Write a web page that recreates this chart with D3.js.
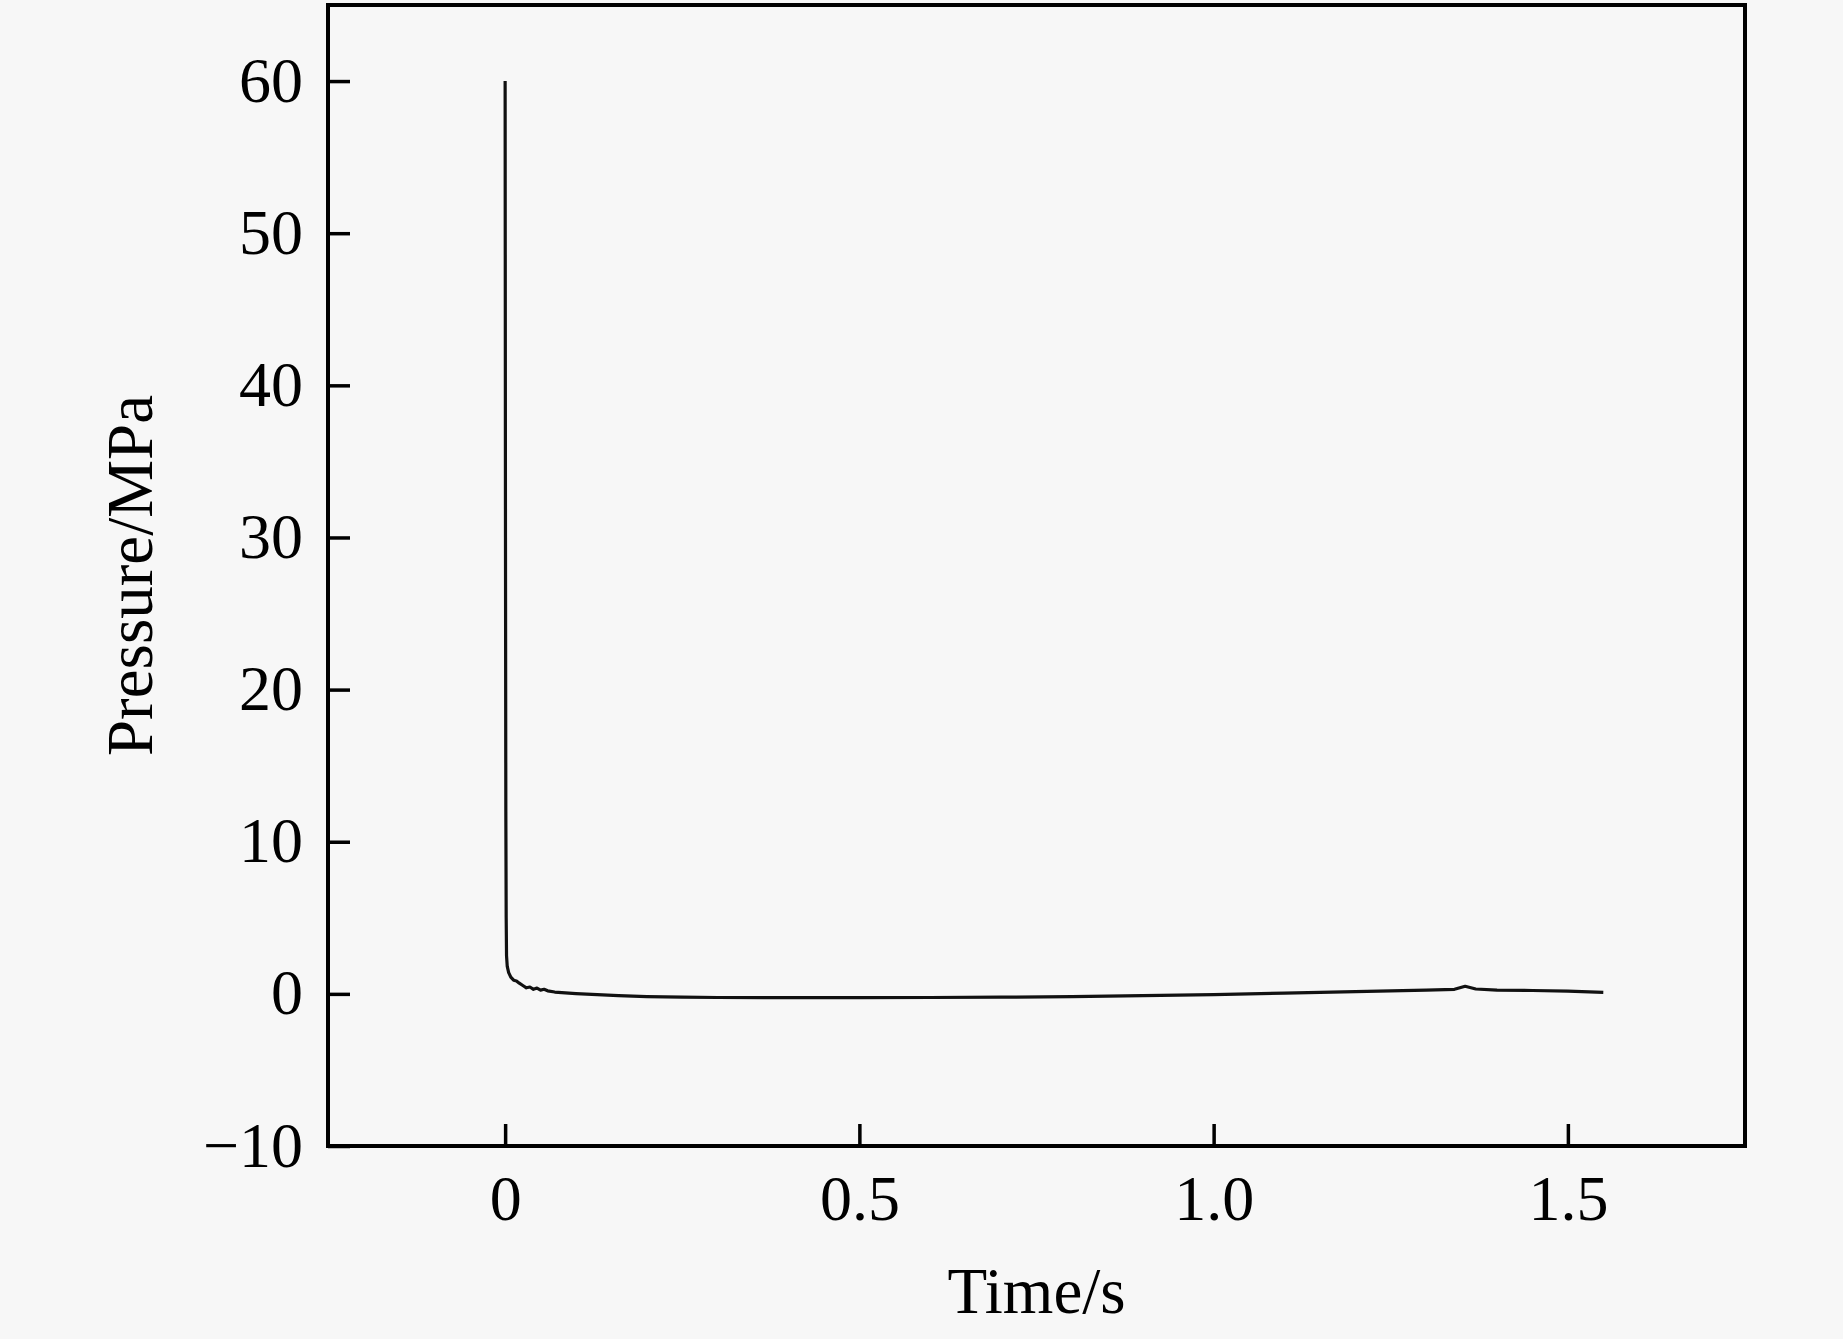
<!DOCTYPE html>
<html>
<head>
<meta charset="utf-8">
<script src="https://cdn.jsdelivr.net/npm/d3@7"></script>
<style>
  html, body { margin: 0; padding: 0; background: #f7f7f7; }
  svg { display: block; }
  text { font-family: "Liberation Serif", "Times New Roman", serif; fill: #000; }
</style>
</head>
<body>
<svg id="chart" width="1843" height="1339"></svg>
<script>
// ---- data ----
const timeS = [0, 0.0005, 0.001, 0.0015, 0.002, 0.003, 0.005, 0.008, 0.012, 0.016, 0.020, 0.025, 0.030, 0.035, 0.040, 0.045, 0.050, 0.055, 0.060, 0.070, 0.080, 0.10, 0.13, 0.16, 0.20, 0.25, 0.30, 0.40, 0.50, 0.60, 0.70, 0.80, 0.90, 1.00, 1.10, 1.20, 1.30, 1.34, 1.355, 1.37, 1.40, 1.45, 1.50, 1.55];
const pressureMPa = [60, 30, 12, 5, 2.5, 1.8, 1.4, 1.1, 0.9, 0.85, 0.7, 0.55, 0.4, 0.45, 0.3, 0.38, 0.25, 0.3, 0.2, 0.12, 0.08, 0.02, -0.05, -0.12, -0.18, -0.22, -0.24, -0.25, -0.25, -0.24, -0.22, -0.18, -0.12, -0.05, 0.05, 0.15, 0.25, 0.3, 0.5, 0.32, 0.25, 0.22, 0.18, 0.1];
const xTicks = [0, 0.5, 1.0, 1.5];
const xTickLabels = ["0", "0.5", "1.0", "1.5"];
const yTicks = [-10, 0, 10, 20, 30, 40, 50, 60];
const yTickLabels = ["\u221210", "0", "10", "20", "30", "40", "50", "60"];
const xLabel = "Time/s";
const yLabel = "Pressure/MPa";

// ---- layout ----
const L = 328, R = 1745, T = 5, B = 1146;
const svg = d3.select("#chart");

const x = d3.scaleLinear().domain([-0.25, 1.75]).range([L, R]);
const y = d3.scaleLinear().domain([-10, 65]).range([B, T]);

// frame
svg.append("rect")
  .attr("x", L).attr("y", T).attr("width", R - L).attr("height", B - T)
  .attr("fill", "none").attr("stroke", "#000").attr("stroke-width", 4);

// x axis ticks (inward)
const xAxis = d3.axisBottom(x).tickValues(xTicks).tickSize(-22)
  .tickFormat((d, i) => xTickLabels[i]);
const gx = svg.append("g").attr("transform", `translate(0,${B})`).call(xAxis);
gx.select(".domain").remove();
gx.selectAll(".tick line").attr("stroke", "#000").attr("stroke-width", 3.5);
gx.selectAll(".tick text")
  .attr("font-size", 64).attr("font-family", "Liberation Serif, serif")
  .attr("y", 74).attr("dy", 0).attr("fill", "#000");

// y axis ticks (inward)
const yAxis = d3.axisLeft(y).tickValues(yTicks).tickSize(-22)
  .tickFormat((d, i) => yTickLabels[i]);
const gy = svg.append("g").attr("transform", `translate(${L},0)`).call(yAxis);
gy.select(".domain").remove();
gy.selectAll(".tick line").attr("stroke", "#000").attr("stroke-width", 3.5);
gy.selectAll(".tick text")
  .attr("font-size", 64).attr("font-family", "Liberation Serif, serif")
  .attr("x", -25).attr("dy", 0).attr("y", 20).attr("fill", "#000");

// data line
const pts = timeS.map((t, i) => [t, pressureMPa[i]]);
svg.append("path")
  .datum(pts)
  .attr("fill", "none")
  .attr("stroke", "#111")
  .attr("stroke-width", 3.2)
  .attr("stroke-linejoin", "round")
  .attr("d", d3.line().x(d => x(d[0])).y(d => y(d[1])));

// axis titles
svg.append("text")
  .attr("x", (L + R) / 2).attr("y", 1313)
  .attr("text-anchor", "middle").attr("font-size", 65)
  .text(xLabel);

svg.append("text")
  .attr("transform", `translate(152,${(T + B) / 2}) rotate(-90)`)
  .attr("text-anchor", "middle").attr("font-size", 65)
  .text(yLabel);
</script>
</body>
</html>
